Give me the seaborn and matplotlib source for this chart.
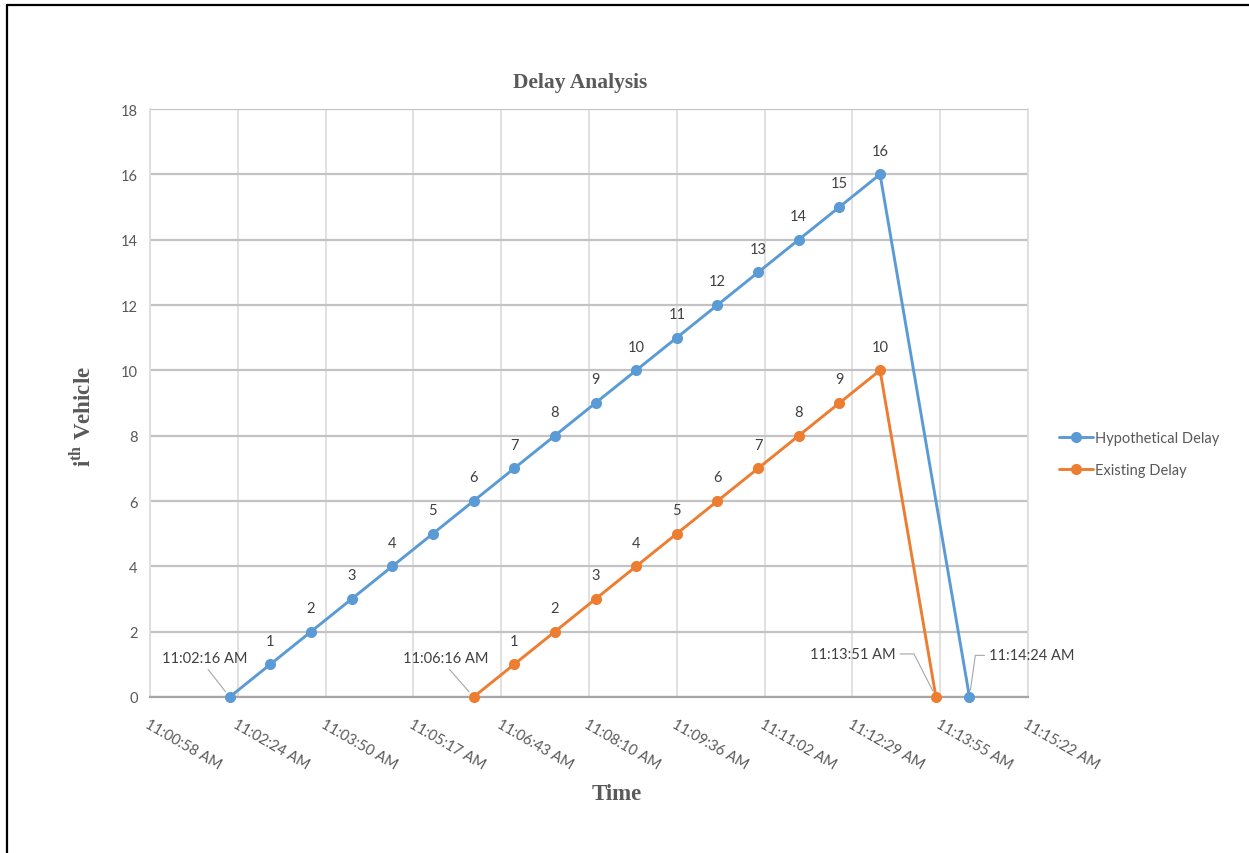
import datetime as dt

import matplotlib
matplotlib.use("Agg")
import matplotlib.pyplot as plt
import matplotlib.dates as mdates
from matplotlib.lines import Line2D
import pandas as pd
import seaborn as sns

# ---- data -------------------------------------------------------------
hyp_times = ["11:02:16", "11:02:56", "11:03:36", "11:04:16", "11:04:56",
             "11:05:36", "11:06:16", "11:06:56", "11:07:36", "11:08:16",
             "11:08:56", "11:09:36", "11:10:16", "11:10:56", "11:11:36",
             "11:12:16", "11:12:56", "11:14:24"]
hyp_vehicle = [0, 1, 2, 3, 4, 5, 6, 7, 8, 9, 10, 11, 12, 13, 14, 15, 16, 0]

exist_times = ["11:06:16", "11:06:56", "11:07:36", "11:08:16", "11:08:56",
               "11:09:36", "11:10:16", "11:10:56", "11:11:36", "11:12:16",
               "11:12:56", "11:13:51"]
exist_vehicle = [0, 1, 2, 3, 4, 5, 6, 7, 8, 9, 10, 0]

series_names = ["Hypothetical Delay", "Existing Delay"]
series_colors = ["#5B9BD5", "#ED7D31"]

x_tick_labels = ["11:00:58 AM", "11:02:24 AM", "11:03:50 AM", "11:05:17 AM",
                 "11:06:43 AM", "11:08:10 AM", "11:09:36 AM", "11:11:02 AM",
                 "11:12:29 AM", "11:13:55 AM", "11:15:22 AM"]
y_ticks = [0, 2, 4, 6, 8, 10, 12, 14, 16, 18]

# time-axis scale (same as a spreadsheet date axis: min 0.459 d, unit 0.001 d)
axis_start = dt.datetime(2000, 1, 1, 11, 0, 57, 600000)
axis_step = dt.timedelta(seconds=86.4)


def to_dt(s):
    return dt.datetime.strptime("2000-01-01 " + s, "%Y-%m-%d %H:%M:%S")


def fmt_time(s):
    d = to_dt(s)
    return d.strftime("%I:%M:%S %p").lstrip("0")


df = pd.concat([
    pd.DataFrame({"time": [to_dt(t) for t in hyp_times],
                  "vehicle": hyp_vehicle, "series": series_names[0]}),
    pd.DataFrame({"time": [to_dt(t) for t in exist_times],
                  "vehicle": exist_vehicle, "series": series_names[1]}),
], ignore_index=True)

# ---- style ------------------------------------------------------------
sns.set_theme(style="white")
plt.rcParams["font.family"] = ["Lato", "DejaVu Sans"]
plt.rcParams["mathtext.fontset"] = "custom"
plt.rcParams["mathtext.rm"] = "Liberation Serif"
plt.rcParams["mathtext.bf"] = "Liberation Serif:bold"

TICK_COLOR = "#595959"
LABEL_COLOR = "#404040"
LEADER_COLOR = "#a6a6a6"
FS = 10.5

fig = plt.figure(figsize=(12.49, 8.54), dpi=100)
ax = fig.add_axes([150 / 1249, 1 - 698 / 854, 878 / 1249, 588 / 854])

palette = dict(zip(series_names, series_colors))
sns.lineplot(data=df, x="time", y="vehicle", hue="series",
             hue_order=series_names, palette=palette, marker="o",
             markersize=8, markeredgewidth=0, linewidth=2.1,
             estimator=None, sort=False, ax=ax, zorder=3, clip_on=False)

# axes limits and ticks
xticks = [mdates.date2num(axis_start + k * axis_step) for k in range(len(x_tick_labels))]
ax.set_xlim(xticks[0], xticks[-1])
ax.set_ylim(y_ticks[0], y_ticks[-1])
ax.set_xticks(xticks)
ax.set_xticklabels(x_tick_labels, rotation=-30, ha="left", va="top",
                   rotation_mode="anchor", color=TICK_COLOR, fontsize=FS)
ax.set_yticks(y_ticks)
ax.set_yticklabels([str(v) for v in y_ticks], color=TICK_COLOR, fontsize=FS)
ax.tick_params(axis="x", length=0, pad=14)
ax.tick_params(axis="y", length=0, pad=9)
ax.set_xlabel("")
ax.set_ylabel("")

ax.xaxis.grid(True, color="#dcdcdc", linewidth=1.2, zorder=0)
ax.yaxis.grid(True, color="#c3c3c3", linewidth=1.6, zorder=0)
ax.set_axisbelow(True)
for side in ["left", "right"]:
    ax.spines[side].set_color("#dcdcdc")
    ax.spines[side].set_linewidth(1.2)
ax.spines["top"].set_visible(False)
ax.spines["bottom"].set_color("#a6a6a6")
ax.spines["bottom"].set_linewidth(1.6)

# value labels above each vehicle point
for times, values in [(hyp_times, hyp_vehicle), (exist_times, exist_vehicle)]:
    for t, v in zip(times, values):
        if v == 0:
            continue
        ax.annotate(str(v), (mdates.date2num(to_dt(t)), v), xytext=(0, 17),
                    textcoords="offset points", ha="center", va="center",
                    color=LABEL_COLOR, fontsize=FS)

# time labels with leader lines on the zero points
leader = dict(arrowstyle="-", color=LEADER_COLOR, lw=0.8, shrinkA=1, shrinkB=5)
ax.annotate(fmt_time(hyp_times[0]), (mdates.date2num(to_dt(hyp_times[0])), 0),
            xytext=(-18, 28), textcoords="offset points", ha="center",
            va="center", color=LABEL_COLOR, fontsize=FS,
            arrowprops=dict(leader, relpos=(0.5, 0)))
ax.annotate(fmt_time(exist_times[0]), (mdates.date2num(to_dt(exist_times[0])), 0),
            xytext=(-20, 28), textcoords="offset points", ha="center",
            va="center", color=LABEL_COLOR, fontsize=FS,
            arrowprops=dict(leader, relpos=(0.5, 0)))
ax.annotate(fmt_time(exist_times[-1]), (mdates.date2num(to_dt(exist_times[-1])), 0),
            xytext=(-60, 31), textcoords="offset points", ha="center",
            va="center", color=LABEL_COLOR, fontsize=FS,
            arrowprops=dict(leader, relpos=(1.0, 0.5),
                            connectionstyle="angle,angleA=0,angleB=117,rad=0"))
ax.annotate(fmt_time(hyp_times[-1]), (mdates.date2num(to_dt(hyp_times[-1])), 0),
            xytext=(45, 30), textcoords="offset points", ha="center",
            va="center", color=LABEL_COLOR, fontsize=FS,
            arrowprops=dict(leader, relpos=(0.0, 0.5),
                            connectionstyle="angle,angleA=0,angleB=82,rad=0"))

# legend
handles, labels = ax.get_legend_handles_labels()
for h in handles:
    h.set_markersize(8)
    h.set_linewidth(2.1)
leg = ax.legend(handles, labels, loc="center left",
                bbox_to_anchor=(1046 / 1249, 1 - 455 / 854),
                bbox_transform=fig.transFigure, frameon=False,
                handlelength=2.3, handletextpad=0.15, labelspacing=1.25,
                fontsize=FS)
for txt in leg.get_texts():
    txt.set_color(TICK_COLOR)

# titles
serif_bold = dict(family=["Liberation Serif"], fontweight="bold", color="#595959")
fig.text(580 / 1249, 1 - 83 / 854, "Delay Analysis", ha="center", va="center",
         fontsize=15.5, **serif_bold)
fig.text(617 / 1249, 1 - 795 / 854, "Time", ha="center", va="center",
         fontsize=16.5, **serif_bold)
fig.text(82 / 1249, 1 - 417 / 854, r"i$^{\mathbf{th}}$ Vehicle", ha="center",
         va="center", rotation=90, fontsize=16.5, **serif_bold)

# frame lines along the left and top of the figure
fig.add_artist(Line2D([7 / 1249, 7 / 1249], [0, 1 - 6 / 854],
                      transform=fig.transFigure, color="black", lw=1.6))
fig.add_artist(Line2D([7 / 1249, 1], [1 - 6 / 854, 1 - 6 / 854],
                      transform=fig.transFigure, color="black", lw=1.6))

fig.savefig("out.png", dpi=100)
